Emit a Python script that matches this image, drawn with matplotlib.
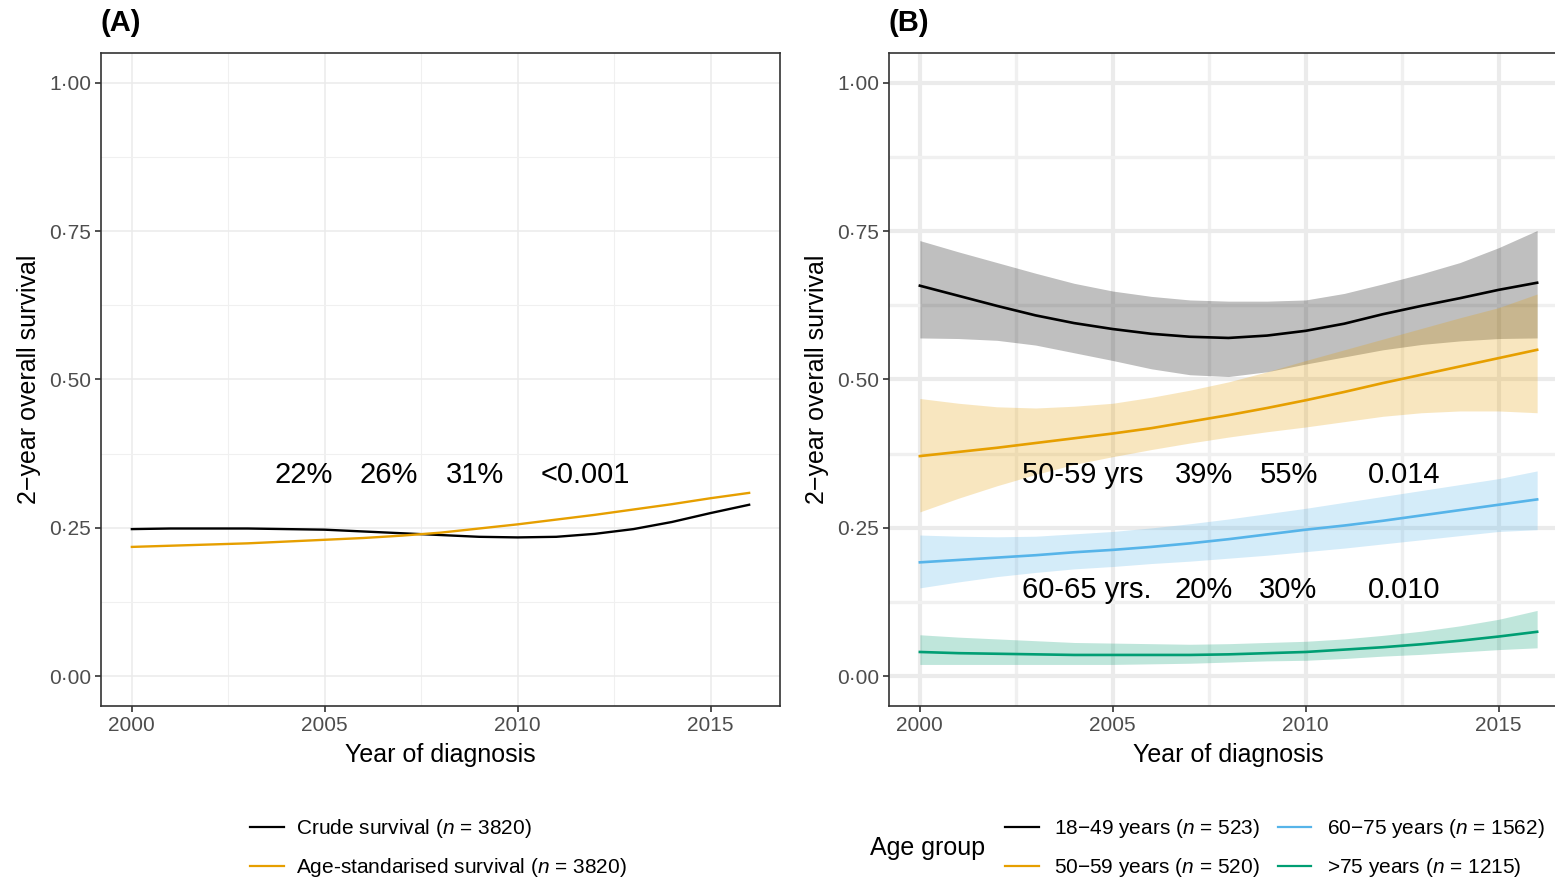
import numpy as np
import matplotlib
matplotlib.use("Agg")
import matplotlib.pyplot as plt
from matplotlib.lines import Line2D

plt.rcParams["font.family"] = ["Liberation Sans", "DejaVu Sans"]
plt.rcParams["mathtext.fontset"] = "custom"
plt.rcParams["mathtext.rm"] = "Liberation Sans"
plt.rcParams["mathtext.it"] = "Liberation Sans:italic"

# ---- data ----
years = list(range(2000, 2017))

# panel A: whole cohort
crude = [0.248, 0.249, 0.249, 0.249, 0.248, 0.247, 0.244, 0.241, 0.238,
         0.235, 0.234, 0.235, 0.240, 0.248, 0.260, 0.275, 0.289]
age_std = [0.218, 0.220, 0.222, 0.224, 0.227, 0.230, 0.233, 0.237, 0.242,
           0.249, 0.256, 0.264, 0.272, 0.281, 0.290, 0.300, 0.309]

# panel B: by age group (estimate, lower, upper)
g1849 = [0.658, 0.641, 0.624, 0.608, 0.595, 0.585, 0.577, 0.572, 0.570,
         0.574, 0.582, 0.594, 0.610, 0.624, 0.637, 0.651, 0.663]
g1849_lo = [0.570, 0.569, 0.566, 0.558, 0.545, 0.532, 0.518, 0.508, 0.505,
            0.513, 0.526, 0.538, 0.550, 0.559, 0.565, 0.569, 0.570]
g1849_hi = [0.734, 0.715, 0.697, 0.679, 0.662, 0.649, 0.640, 0.634, 0.632,
            0.632, 0.634, 0.645, 0.661, 0.678, 0.697, 0.722, 0.751]

g5059 = [0.371, 0.378, 0.385, 0.393, 0.401, 0.409, 0.418, 0.429, 0.440,
         0.452, 0.465, 0.479, 0.494, 0.508, 0.522, 0.536, 0.550]
g5059_lo = [0.277, 0.300, 0.321, 0.340, 0.357, 0.370, 0.382, 0.393, 0.403,
            0.412, 0.420, 0.429, 0.438, 0.444, 0.447, 0.447, 0.444]
g5059_hi = [0.468, 0.460, 0.454, 0.452, 0.455, 0.460, 0.470, 0.482, 0.496,
            0.513, 0.532, 0.550, 0.568, 0.586, 0.604, 0.621, 0.644]

g6075 = [0.192, 0.196, 0.200, 0.204, 0.209, 0.213, 0.218, 0.224, 0.231,
         0.239, 0.247, 0.254, 0.262, 0.271, 0.280, 0.289, 0.298]
g6075_lo = [0.149, 0.159, 0.168, 0.175, 0.181, 0.185, 0.190, 0.194, 0.199,
            0.204, 0.210, 0.216, 0.223, 0.230, 0.237, 0.244, 0.247]
g6075_hi = [0.238, 0.236, 0.235, 0.236, 0.240, 0.244, 0.250, 0.257, 0.265,
            0.274, 0.283, 0.293, 0.303, 0.313, 0.323, 0.333, 0.346]

g75 = [0.041, 0.039, 0.038, 0.037, 0.036, 0.036, 0.036, 0.036, 0.037,
       0.039, 0.041, 0.045, 0.049, 0.054, 0.060, 0.067, 0.075]
g75_lo = [0.020, 0.020, 0.020, 0.020, 0.020, 0.020, 0.021, 0.022, 0.024,
          0.026, 0.027, 0.030, 0.034, 0.037, 0.041, 0.045, 0.048]
g75_hi = [0.070, 0.066, 0.063, 0.060, 0.057, 0.056, 0.055, 0.054, 0.055,
          0.057, 0.059, 0.063, 0.069, 0.076, 0.085, 0.096, 0.111]

labels_a = ["Crude survival ($n$ = 3820)",
            "Age-standarised survival ($n$ = 3820)"]
labels_b = ["18\u221249 years ($n$ = 523)", "50\u221259 years ($n$ = 520)",
            "60\u221275 years ($n$ = 1562)", ">75 years ($n$ = 1215)"]

x_ticks = [2000, 2005, 2010, 2015]
y_ticks = [0.0, 0.25, 0.5, 0.75, 1.0]
y_tick_labels = ["0\u00b700", "0\u00b725", "0\u00b750", "0\u00b775", "1\u00b700"]

# annotation rows: (text, x) with a shared y per row
notes_a = [("22%", 2003.7), ("26%", 2005.9), ("31%", 2008.15), ("<0.001", 2010.6)]
notes_a_y = 0.339
notes_b1 = [("50-59 yrs", 2002.65), ("39%", 2006.6), ("55%", 2008.8), ("0.014", 2011.6)]
notes_b2 = [("60-65 yrs.", 2002.65), ("20%", 2006.6), ("30%", 2008.8), ("0.010", 2011.6)]
notes_b1_y = 0.339
notes_b2_y = 0.146

BLACK = "#000000"
ORANGE = "#E69F00"
BLUE = "#56B4E9"
GREEN = "#009E73"

W, H = 1555, 882
fig = plt.figure(figsize=(W / 100, H / 100), dpi=100)


def style_axes(ax, major_lw, minor_lw):
    ax.set_xlim(1999.2, 2016.8)
    ax.set_ylim(-0.05, 1.05)
    ax.set_xticks(x_ticks)
    ax.set_xticks([2002.5, 2007.5, 2012.5], minor=True)
    ax.set_yticks(y_ticks)
    ax.set_yticklabels(y_tick_labels)
    ax.set_yticks([0.125, 0.375, 0.625, 0.875], minor=True)
    ax.grid(True, which="major", color="#EBEBEB", lw=major_lw, zorder=0)
    ax.grid(True, which="minor", color="#F0F0F0", lw=minor_lw, zorder=0)
    ax.set_axisbelow(True)
    ax.tick_params(which="major", length=4, width=1.2, color="#333333",
                   labelsize=15, labelcolor="#4D4D4D", pad=3)
    ax.tick_params(which="minor", length=0)
    for s in ax.spines.values():
        s.set_color("#333333")
        s.set_linewidth(1.2)
    ax.set_xlabel("Year of diagnosis", fontsize=18, labelpad=6)
    ax.set_ylabel("2\u2212year overall survival", fontsize=18, labelpad=6)


# ---- panel A ----
axA = fig.add_axes([101 / W, 1 - 706 / H, 679 / W, 653 / H])
style_axes(axA, 1.1, 0.8)
axA.plot(years, crude, color=BLACK, lw=1.7, zorder=3)
axA.plot(years, age_std, color=ORANGE, lw=1.7, zorder=3)
for txt, x in notes_a:
    axA.text(x, notes_a_y, txt, fontsize=21, ha="left", va="center", zorder=4)

# ---- panel B (right edge runs past the figure) ----
axB = fig.add_axes([889 / W, 1 - 706 / H, 679 / W, 653 / H])
style_axes(axB, 3.0, 2.4)
groups = [(g1849, g1849_lo, g1849_hi, BLACK),
          (g5059, g5059_lo, g5059_hi, ORANGE),
          (g6075, g6075_lo, g6075_hi, BLUE),
          (g75, g75_lo, g75_hi, GREEN)]
for est, lo, hi, col in groups:
    axB.fill_between(years, lo, hi, color=col, alpha=0.25, lw=0, zorder=2)
for est, lo, hi, col in groups:
    axB.plot(years, est, color=col, lw=1.9, zorder=3)
for txt, x in notes_b1:
    axB.text(x, notes_b1_y, txt, fontsize=21, ha="left", va="center", zorder=4)
for txt, x in notes_b2:
    axB.text(x, notes_b2_y, txt, fontsize=21, ha="left", va="center", zorder=4)

# panel tags
fig.text(100 / W, 1 - 23 / H, "(A)", fontsize=21, weight="bold", va="center")
fig.text(888 / W, 1 - 23 / H, "(B)", fontsize=21, weight="bold", va="center")

# ---- legends ----
handles_a = [Line2D([], [], color=c, lw=1.6) for c in (BLACK, ORANGE)]
fig.legend(handles_a, labels_a, loc="center left",
           bbox_to_anchor=(240 / W, 1 - 848 / H), frameon=False, fontsize=15,
           handlelength=1.6, handletextpad=0.6, labelspacing=0.75, borderpad=0)

handles_b = [Line2D([], [], color=c, lw=1.6) for c in (BLACK, ORANGE, BLUE, GREEN)]
fig.legend(handles_b, labels_b, loc="center left", ncol=2,
           bbox_to_anchor=(995 / W, 1 - 848 / H), frameon=False, fontsize=15,
           handlelength=1.6, handletextpad=0.75, labelspacing=0.75,
           columnspacing=0.85, borderpad=0)
fig.text(870 / W, 1 - 848 / H, "Age group", fontsize=18, va="center", ha="left")

fig.savefig("out.png", dpi=100)
